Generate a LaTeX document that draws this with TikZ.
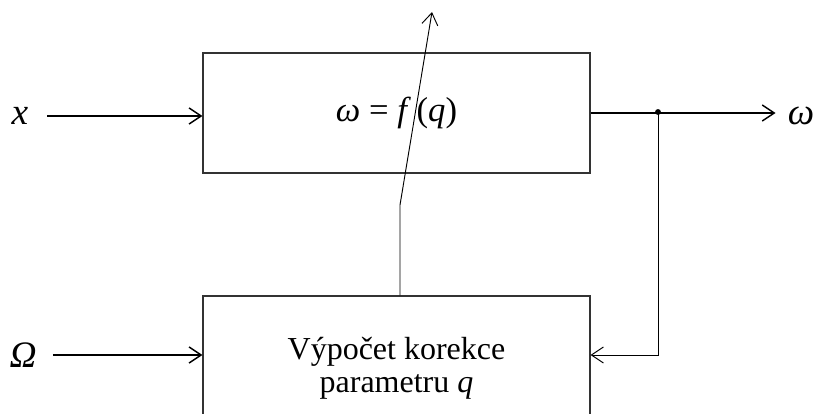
\documentclass[tikz,border=0pt]{standalone}
\usepackage{fontspec}
\setmainfont{Liberation Serif}
\usepackage{tikz}
\usetikzlibrary{positioning,arrows.meta,calc}

\begin{document}
\begin{tikzpicture}[
    x=0.75pt, y=-0.75pt,
    block/.style={rectangle, draw=black!80, line width=0.9pt, minimum width=290.25pt,
                  align=center, font=\fontsize{24}{24}\selectfont},
    lbl/.style={font=\fontsize{28}{30}\selectfont\itshape, inner sep=0pt},
    sig/.style={-{Straight Barb[length=9pt, width=12pt]}, line width=1.1pt},
    thin/.style={-{Straight Barb[length=9pt, width=12pt]}, line width=0.7pt}
]
\useasboundingbox (0,0) rectangle (819,414);

% Blocks
\node[block, minimum height=90pt] (fbox) at (396.5,113)
  {\fontsize{26}{30}\selectfont\textit{ω} = \textit{f}\,(\textit{q})};
\node[block, minimum height=108pt] (cbox) at (396.5,368) {Výpočet korekce\\[1pt]parametru \textit{q}};

% Inputs and output labels
\node[lbl] (xin) at (20,116) {x};
\node[lbl] (om) at (23,355) {Ω};
\node[lbl] (wout) at (801,116) {ω};
\fill (658,112) circle (2.2pt) coordinate (dot);
\coordinate (bend) at (400,205);
\coordinate (qtip) at (432,12);

% Signal flow
\draw[sig] ([xshift=14pt]xin.east) -- (fbox.west |- xin.east);
\draw[sig] ([xshift=12pt]om.east) -- (cbox.west |- om.east);
\draw[sig] (fbox.east) -- ([xshift=-9pt]wout.west |- fbox.east);

% Feedback and parameter correction
\draw[thin] (dot) |- (cbox.east |- om.east);
\draw[thin] (cbox.north -| bend) -- (bend) -- (qtip);

\end{tikzpicture}
\end{document}
